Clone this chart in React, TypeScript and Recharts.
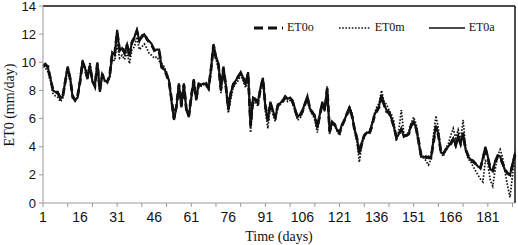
import { Line, LineChart, ReferenceLine, XAxis, YAxis } from 'recharts'

const AXIS = '#9a9a9a'
const INK = '#111'
const SERIF = 'Liberation Serif, Times New Roman, serif'
const SANS = 'Liberation Sans, Arial, sans-serif'

// daily ET0 (mm/day), day 1 .. 192
const ET0A = [
  9.8, 9.9, 9.6, 8.9, 8.0, 7.9, 7.9, 7.4, 7.6, 8.7, 9.7, 8.9, 7.5, 7.3, 7.5, 8.7, 10.1, 9.6, 8.8, 9.8,
  8.6, 8.3, 10.0, 7.9, 9.2, 8.7, 8.6, 9.0, 10.7, 10.5, 12.3, 10.8, 11.0, 10.6, 11.3, 10.4, 11.5, 11.8, 12.3, 11.5,
  11.9, 12.0, 11.6, 11.5, 11.3, 10.8, 10.9, 10.9, 9.6, 9.5, 9.2, 8.7, 7.3, 5.9, 6.8, 8.5, 6.8, 8.5, 6.6, 6.1,
  7.5, 8.8, 7.3, 8.5, 8.4, 8.5, 8.4, 8.1, 9.6, 11.3, 10.4, 9.9, 8.0, 9.7, 8.4, 6.6, 7.8, 8.5, 8.7, 9.0,
  9.3, 8.9, 8.5, 9.3, 5.4, 7.5, 7.4, 7.2, 8.2, 8.9, 6.8, 5.8, 7.2, 6.6, 6.0, 7.0, 7.1, 7.3, 7.6, 7.4,
  7.5, 7.3, 6.7, 6.1, 6.3, 6.6, 7.1, 7.6, 6.7, 6.5, 6.2, 5.3, 6.3, 7.2, 6.6, 8.2, 5.0, 5.8, 5.6, 5.2,
  5.0, 5.6, 5.9, 6.4, 6.8, 6.3, 5.3, 4.7, 3.5, 4.3, 4.8, 5.0, 5.0, 5.5, 6.2, 6.6, 6.9, 7.7, 7.0, 6.6,
  6.5, 6.0, 5.4, 4.6, 4.9, 5.3, 4.7, 4.8, 4.9, 5.6, 5.8, 5.3, 4.3, 3.3, 3.3, 3.2, 3.3, 3.2, 4.4, 5.5,
  4.9, 3.6, 3.5, 3.8, 4.0, 4.3, 4.6, 4.1, 4.8, 4.2, 5.0, 3.8, 3.3, 3.1, 2.9, 2.8, 2.6, 2.5, 3.2, 4.0,
  3.3, 2.4, 2.3, 3.0, 3.4, 3.3, 2.8, 2.3, 2.1, 2.0, 2.8, 3.5,
]

const ET0O = [
  9.7, 9.8, 9.7, 8.8, 8.1, 7.9, 7.8, 7.5, 7.6, 8.6, 9.6, 8.8, 7.6, 7.3, 7.6, 8.6, 10.0, 9.5, 8.9, 9.7,
  8.7, 8.3, 9.9, 8.0, 9.1, 8.8, 8.6, 9.1, 10.6, 10.6, 12.1, 10.9, 11.1, 10.7, 11.2, 10.5, 11.4, 11.7, 12.2, 11.6,
  11.8, 12.0, 11.7, 11.4, 11.2, 10.9, 10.8, 10.8, 9.7, 9.5, 9.1, 8.6, 7.4, 6.0, 6.9, 8.4, 6.9, 8.4, 6.7, 6.2,
  7.6, 8.7, 7.4, 8.4, 8.4, 8.4, 8.5, 8.2, 9.5, 11.2, 10.3, 9.8, 8.1, 9.6, 8.3, 6.7, 7.8, 8.4, 8.6, 9.0,
  9.2, 8.9, 8.4, 9.2, 5.5, 7.4, 7.3, 7.1, 8.1, 8.8, 6.9, 5.9, 7.1, 6.5, 6.1, 6.9, 7.1, 7.2, 7.5, 7.4,
  7.4, 7.2, 6.6, 6.1, 6.2, 6.5, 7.0, 7.5, 6.7, 6.4, 6.2, 5.4, 6.2, 7.1, 6.6, 8.1, 5.1, 5.7, 5.6, 5.2,
  5.0, 5.5, 5.9, 6.3, 6.7, 6.2, 5.3, 4.6, 3.6, 4.2, 4.8, 5.0, 4.9, 5.4, 6.1, 6.5, 6.8, 7.6, 7.0, 6.5,
  6.4, 6.0, 5.4, 4.7, 4.9, 5.2, 4.8, 4.8, 4.9, 5.5, 5.7, 5.3, 4.4, 3.4, 3.3, 3.3, 3.2, 3.2, 4.3, 5.4,
  4.8, 3.7, 3.5, 3.8, 4.0, 4.2, 4.5, 4.1, 4.7, 4.2, 4.9, 3.8, 3.4, 3.1, 3.0, 2.8, 2.7, 2.5, 3.1, 3.9,
  3.2, 2.5, 2.3, 2.9, 3.3, 3.2, 2.8, 2.4, 2.1, 2.0, 2.7, 3.4,
]

const ET0M = [
  9.7, 9.6, 9.3, 8.7, 7.8, 7.6, 7.5, 7.2, 7.4, 8.5, 9.6, 8.8, 7.4, 7.3, 7.5, 8.8, 10.2, 9.7, 9.1, 10.0,
  8.7, 8.4, 9.8, 8.0, 9.0, 8.6, 8.6, 8.9, 10.2, 10.1, 11.3, 10.3, 10.5, 10.2, 10.7, 9.9, 10.9, 11.1, 11.8, 10.9,
  11.1, 11.3, 11.0, 10.6, 10.5, 10.3, 10.4, 10.1, 9.9, 9.7, 9.3, 8.7, 7.1, 6.0, 6.8, 8.3, 6.9, 8.4, 6.7, 6.2,
  7.3, 8.6, 7.4, 8.4, 8.3, 8.4, 8.3, 8.1, 9.3, 11.0, 10.2, 9.6, 7.8, 9.5, 8.1, 6.4, 7.4, 8.2, 8.5, 8.7,
  9.1, 8.7, 8.2, 9.0, 5.0, 7.2, 7.1, 6.9, 8.0, 8.8, 6.5, 5.3, 7.0, 6.3, 5.8, 6.8, 7.0, 7.2, 7.5, 7.2,
  7.3, 7.1, 6.5, 5.9, 6.0, 6.4, 7.0, 7.5, 6.6, 6.3, 5.9, 5.0, 6.2, 7.1, 6.5, 8.3, 4.9, 5.6, 5.5, 5.1,
  4.8, 5.5, 5.8, 6.4, 6.9, 6.4, 5.1, 4.4, 2.9, 4.1, 4.7, 5.0, 5.0, 5.6, 6.3, 6.8, 7.1, 8.0, 7.2, 7.0,
  6.6, 6.3, 5.8, 4.4, 5.2, 6.6, 5.0, 4.7, 5.1, 5.7, 6.1, 5.6, 4.6, 3.2, 3.2, 3.0, 2.7, 3.1, 4.8, 6.2,
  5.3, 3.6, 3.3, 3.9, 4.2, 4.8, 5.3, 4.6, 5.2, 4.5, 5.9, 4.0, 3.1, 3.0, 2.6, 2.3, 2.0, 1.7, 1.5, 3.0,
  2.8, 1.6, 1.2, 2.4, 3.4, 3.8, 3.2, 2.2, 1.2, 0.4, 2.0, 3.7,
]

const Y_TICKS = [0, 2, 4, 6, 8, 10, 12, 14]
const X_LABELS = [1, 16, 31, 46, 61, 76, 91, 106, 121, 136, 151, 166, 181]
const X_MARKS = [1, 11, 21, 31, 41, 51, 61, 71, 81, 91, 101, 111, 121, 131, 141, 151, 161, 171, 181, 191]
const X_TICKS = Array.from(new Set([...X_MARKS, ...X_LABELS])).sort((a, b) => a - b)

const data = ET0A.map((a, i) => ({ day: i + 1, ET0o: ET0O[i], ET0m: ET0M[i], ET0a: a }))

const SERIES = [
  { key: 'ET0m', dash: '1.6 1.6', width: 1.7 },
  { key: 'ET0o', dash: '7 4', width: 2.8 },
  { key: 'ET0a', dash: undefined, width: 2.1 },
]

function XTick(props: any) {
  const { x, y, payload } = props
  const v = payload.value
  return (
    <g>
      {X_MARKS.includes(v) && <line x1={x} x2={x} y1={y} y2={y + 4} stroke={AXIS} />}
      {X_LABELS.includes(v) && (
        <text x={x} y={y + 19} textAnchor="middle" fontSize={14} fontFamily={SANS} fill={INK}>
          {v}
        </text>
      )}
    </g>
  )
}

function YTitle() {
  return (
    <text x={9} y={105} transform="rotate(-90 9 105)" textAnchor="middle" dominantBaseline="central" fontSize={14} fontFamily={SERIF} fill={INK}>
      ET0 (mm/day)
    </text>
  )
}

function LegendBox() {
  const item = (label: string, dash: string | undefined, w: number, len: number, gap: number) => (
    <span style={{ display: 'inline-flex', alignItems: 'center', marginRight: gap }}>
      <svg width={len} height={8} style={{ marginRight: 4 }}>
        <line x1={0} x2={len} y1={4} y2={4} stroke={INK} strokeWidth={w} strokeDasharray={dash} />
      </svg>
      <span>{label}</span>
    </span>
  )
  return (
    <div style={{ position: 'absolute', left: 254, top: 20, display: 'flex', fontFamily: SERIF, fontSize: 12, color: INK }}>
      {item('ET0o', '9 5', 3, 29, 25)}
      {item('ET0m', '1.6 1.6', 1.6, 32, 24)}
      {item('ET0a', undefined, 1.6, 36, 0)}
    </div>
  )
}

export default function App() {
  return (
    <div style={{ position: 'absolute', left: 0, top: 0, width: 518, height: 245, background: '#fff' }}>
      <LineChart width={518} height={245} data={data} margin={{ top: 6, right: 3, left: 0, bottom: 0 }}>
        <XAxis
          dataKey="day"
          type="number"
          domain={[1, 192]}
          ticks={X_TICKS}
          interval={0}
          tick={<XTick />}
          tickLine={false}
          tickSize={0}
          tickMargin={0}
          stroke={AXIS}
          height={42}
          label={{ value: 'Time (days)', position: 'insideBottom', offset: 4, fontSize: 14, fill: INK, fontFamily: SERIF }}
        />
        <YAxis
          domain={[0, 14]}
          ticks={Y_TICKS}
          interval={0}
          width={43}
          stroke={AXIS}
          tickSize={4}
          tickMargin={3}
          tick={{ fontSize: 13, fill: INK, fontFamily: SANS }}
          label={<YTitle />}
        />
        <ReferenceLine y={14} stroke={INK} strokeWidth={1.5} />
        <ReferenceLine x={192} stroke={INK} strokeWidth={1.5} />
        {SERIES.map((s) => (
          <Line
            key={s.key}
            dataKey={s.key}
            stroke={INK}
            strokeWidth={s.width}
            strokeDasharray={s.dash}
            dot={false}
            isAnimationActive={false}
          />
        ))}
      </LineChart>
      <LegendBox />
    </div>
  )
}
